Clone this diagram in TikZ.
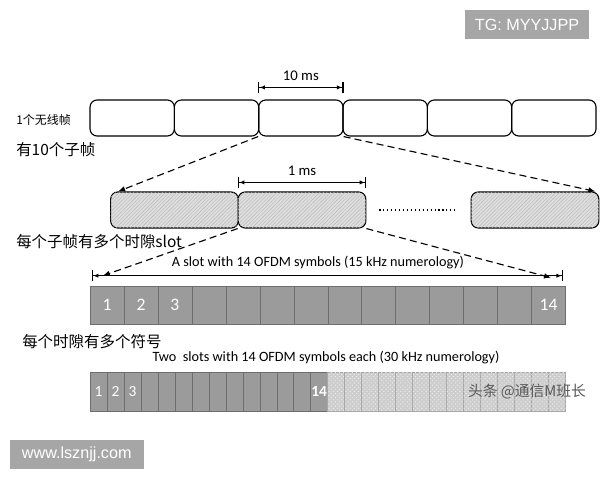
\documentclass[tikz,border=0pt]{standalone}
\usepackage{fontspec}
\setmainfont{Carlito}
\newfontfamily\cjk{Noto Sans CJK SC}
\newfontfamily\arial{Liberation Sans}
\usetikzlibrary{positioning,arrows.meta,patterns,patterns.meta}
\definecolor{symgray}{RGB}{155,155,155}
\definecolor{symline}{RGB}{110,110,110}
\definecolor{symlight}{RGB}{205,205,205}
\definecolor{subgray}{RGB}{222,222,222}
\definecolor{wmgray}{RGB}{166,166,166}

\begin{document}
\begin{tikzpicture}[x=0.025cm,y=-0.025cm,
	frm/.style={draw,thick,rounded corners=5pt,minimum width=2.108cm,minimum height=0.9cm,inner sep=0pt},
	subfrm/.style={frm,minimum width=3.19cm,fill=subgray,postaction={pattern={Lines[angle=45,distance=1.8pt,line width=0.3pt]},pattern color=black!28}},
	sym/.style={draw=symline,fill=symgray,minimum width=0.849cm,minimum height=0.95cm,inner sep=0pt},
	halfsym/.style={sym,minimum width=0.4245cm,minimum height=0.975cm},
	halflight/.style={halfsym,draw=black!35,fill=symlight,postaction={pattern=crosshatch dots,pattern color=white!60!symlight}},
	num/.style={text=white,font=\fontsize{12.5}{14}\selectfont},
	dim/.style={thick,{Bar[width=8pt]Latex[length=4pt,width=3pt]}-{Latex[length=4pt,width=3pt]Bar[width=8pt]}},
	zoomline/.style={thick,dash pattern=on 5pt off 3pt,-{Latex[length=5pt,width=4pt]}},
	cjklbl/.style={anchor=west,inner sep=0pt,font=\cjk\fontsize{11}{13}\selectfont},
	wmbox/.style={fill=wmgray,text=white,inner sep=0pt,minimum height=0.725cm,font=\arial\fontsize{11.5}{13}\selectfont}
]
	\fill[white] (0,0) rectangle (600,480);
	\useasboundingbox (0,0) rectangle (600,480);

	\node[wmbox,minimum width=3.1cm] (tg) at (527,24.5) {TG: MYYJJPP};
	\node[wmbox,minimum width=3.34cm] (www) at (76.75,454.5) {www.lsznjj.com};

	\foreach \i in {1,...,6}
		\node[frm] (frame\i) at ({132.2+84.33*(\i-1)},118) {};
	\node[cjklbl,font=\cjk\fontsize{8.5}{10}\selectfont] (radio) at (16,120) {1个无线帧};
	\node[cjklbl] (tenlbl) at (16,150) {有10个子帧};
	\draw[dim] ([yshift=0.3cm]frame3.north west) -- ([yshift=0.3cm]frame3.north east)
		node[midway,above=1pt,font=\fontsize{10.5}{12}\selectfont] {10 ms};

	\node[subfrm] (sub1) at (174.5,210) {};
	\node[subfrm] (sub2) at (302,210) {};
	\node[subfrm] (subN) at (535,210) {};
	\draw[thick,dotted] ([xshift=0.325cm]sub2.east) -- ([xshift=-0.39cm]subN.west);
	\draw[dim] ([yshift=0.225cm]sub2.north west) -- ([yshift=0.225cm]sub2.north east)
		node[midway,above=1pt,font=\fontsize{10.5}{12}\selectfont] {1 ms};
	\draw[zoomline] (frame3.south west) -- ([xshift=0.2cm]sub1.north west);
	\draw[zoomline] (frame3.south east) -- ([xshift=-0.1cm]subN.north east);
	\node[cjklbl] (slotlbl) at (16,242) {每个子帧有多个时隙slot};

	\foreach \i in {1,...,14}
		\node[sym] (sym\i) at ({107+33.97*(\i-1)},305) {};
	\foreach \i in {1,2,3,14}
		\node[num] at (sym\i) {\i};
	\coordinate (slotL) at ([xshift=0.05cm,yshift=0.25cm]sym1.north west);
	\coordinate (slotR) at ([xshift=-0.07cm,yshift=0.25cm]sym14.north east);
	\draw[dim] (slotL) -- (slotR)
		node[pos=0.48,above=1pt,font=\fontsize{10.1}{12}\selectfont] {A slot with 14 OFDM symbols (15 kHz numerology)};
	\draw[zoomline] (sub2.south west) -- ([xshift=0.275cm]slotL);
	\draw[zoomline] (sub2.south east) -- ([xshift=-0.3cm,yshift=-0.05cm]slotR);

	\node[cjklbl] (symlbl) at (22,342) {每个时隙有多个符号};
	\node[font=\fontsize{10.1}{12}\selectfont] (twolbl) at (326,358) {Two\ \ slots with 14 OFDM symbols each (30 kHz numerology)};
	\foreach \i in {1,...,14}
		\node[halfsym] (half\i) at ({98.5+16.98*(\i-1)},391.5) {};
	\foreach \i in {15,...,28}
		\node[halflight] (half\i) at ({98.5+16.98*(\i-1)},391.5) {};
	\foreach \i in {1,2,3}
		\node[num,font=\fontsize{11}{13}\selectfont] at (half\i) {\i};
	\node[num,font=\bfseries\fontsize{11}{13}\selectfont] at (half14) {14};
	\node[text=black!65,font=\cjk\fontsize{10.5}{12}\selectfont] (toutiao) at (527,392) {头条 @通信M班长};
\end{tikzpicture}
\end{document}
